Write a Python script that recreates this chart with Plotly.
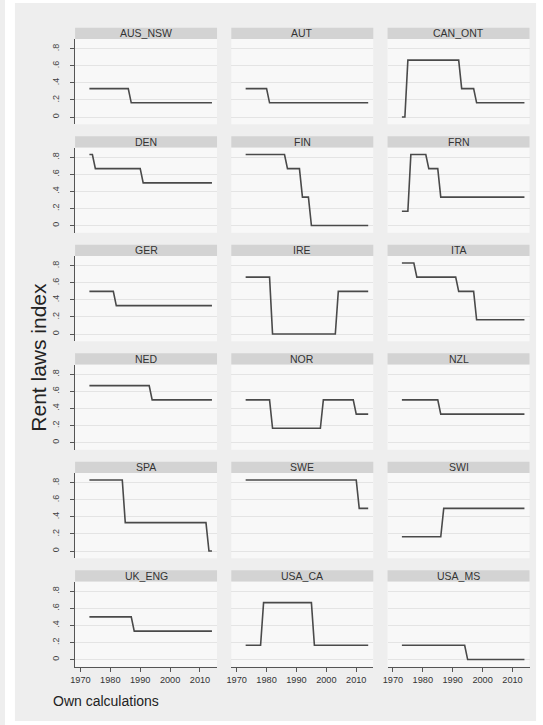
import plotly.graph_objects as go

# ---------------- data ----------------
YEARS = [1973, 1974, 1975, 1976, 1977, 1978, 1979,
         1980, 1981, 1982, 1983, 1984, 1985, 1986,
         1987, 1988, 1989, 1990, 1991, 1992, 1993,
         1994, 1995, 1996, 1997, 1998, 1999, 2000,
         2001, 2002, 2003, 2004, 2005, 2006, 2007,
         2008, 2009, 2010, 2011, 2012, 2013, 2014]

REGIONS = ["AUS_NSW", "AUT", "CAN_ONT",
           "DEN", "FIN", "FRN",
           "GER", "IRE", "ITA",
           "NED", "NOR", "NZL",
           "SPA", "SWE", "SWI",
           "UK_ENG", "USA_CA", "USA_MS"]

# rows of 7 values: 1973-79, 1980-86, 1987-93, 1994-2000, 2001-07, 2008-14
AUS_NSW = [.333, .333, .333, .333, .333, .333, .333,
           .333, .333, .333, .333, .333, .333, .333,
           .167, .167, .167, .167, .167, .167, .167,
           .167, .167, .167, .167, .167, .167, .167,
           .167, .167, .167, .167, .167, .167, .167,
           .167, .167, .167, .167, .167, .167, .167]
AUT = [.333, .333, .333, .333, .333, .333, .333,
       .333, .167, .167, .167, .167, .167, .167,
       .167, .167, .167, .167, .167, .167, .167,
       .167, .167, .167, .167, .167, .167, .167,
       .167, .167, .167, .167, .167, .167, .167,
       .167, .167, .167, .167, .167, .167, .167]
CAN_ONT = [0, 0, .667, .667, .667, .667, .667,
           .667, .667, .667, .667, .667, .667, .667,
           .667, .667, .667, .667, .667, .667, .333,
           .333, .333, .333, .333, .167, .167, .167,
           .167, .167, .167, .167, .167, .167, .167,
           .167, .167, .167, .167, .167, .167, .167]
DEN = [.833, .833, .667, .667, .667, .667, .667,
       .667, .667, .667, .667, .667, .667, .667,
       .667, .667, .667, .667, .5, .5, .5,
       .5, .5, .5, .5, .5, .5, .5,
       .5, .5, .5, .5, .5, .5, .5,
       .5, .5, .5, .5, .5, .5, .5]
FIN = [.833, .833, .833, .833, .833, .833, .833,
       .833, .833, .833, .833, .833, .833, .833,
       .667, .667, .667, .667, .667, .333, .333,
       .333, 0, 0, 0, 0, 0, 0,
       0, 0, 0, 0, 0, 0, 0,
       0, 0, 0, 0, 0, 0, 0]
FRN = [.167, .167, .167, .833, .833, .833, .833,
       .833, .833, .667, .667, .667, .667, .333,
       .333, .333, .333, .333, .333, .333, .333,
       .333, .333, .333, .333, .333, .333, .333,
       .333, .333, .333, .333, .333, .333, .333,
       .333, .333, .333, .333, .333, .333, .333]
GER = [.5, .5, .5, .5, .5, .5, .5,
       .5, .5, .333, .333, .333, .333, .333,
       .333, .333, .333, .333, .333, .333, .333,
       .333, .333, .333, .333, .333, .333, .333,
       .333, .333, .333, .333, .333, .333, .333,
       .333, .333, .333, .333, .333, .333, .333]
IRE = [.667, .667, .667, .667, .667, .667, .667,
       .667, .667, 0, 0, 0, 0, 0,
       0, 0, 0, 0, 0, 0, 0,
       0, 0, 0, 0, 0, 0, 0,
       0, 0, 0, .5, .5, .5, .5,
       .5, .5, .5, .5, .5, .5, .5]
ITA = [.833, .833, .833, .833, .833, .667, .667,
       .667, .667, .667, .667, .667, .667, .667,
       .667, .667, .667, .667, .667, .5, .5,
       .5, .5, .5, .5, .167, .167, .167,
       .167, .167, .167, .167, .167, .167, .167,
       .167, .167, .167, .167, .167, .167, .167]
NED = [.667, .667, .667, .667, .667, .667, .667,
       .667, .667, .667, .667, .667, .667, .667,
       .667, .667, .667, .667, .667, .667, .667,
       .5, .5, .5, .5, .5, .5, .5,
       .5, .5, .5, .5, .5, .5, .5,
       .5, .5, .5, .5, .5, .5, .5]
NOR = [.5, .5, .5, .5, .5, .5, .5,
       .5, .5, .167, .167, .167, .167, .167,
       .167, .167, .167, .167, .167, .167, .167,
       .167, .167, .167, .167, .167, .5, .5,
       .5, .5, .5, .5, .5, .5, .5,
       .5, .5, .333, .333, .333, .333, .333]
NZL = [.5, .5, .5, .5, .5, .5, .5,
       .5, .5, .5, .5, .5, .5, .333,
       .333, .333, .333, .333, .333, .333, .333,
       .333, .333, .333, .333, .333, .333, .333,
       .333, .333, .333, .333, .333, .333, .333,
       .333, .333, .333, .333, .333, .333, .333]
SPA = [.833, .833, .833, .833, .833, .833, .833,
       .833, .833, .833, .833, .833, .333, .333,
       .333, .333, .333, .333, .333, .333, .333,
       .333, .333, .333, .333, .333, .333, .333,
       .333, .333, .333, .333, .333, .333, .333,
       .333, .333, .333, .333, .333, 0, 0]
SWE = [.833, .833, .833, .833, .833, .833, .833,
       .833, .833, .833, .833, .833, .833, .833,
       .833, .833, .833, .833, .833, .833, .833,
       .833, .833, .833, .833, .833, .833, .833,
       .833, .833, .833, .833, .833, .833, .833,
       .833, .833, .833, .5, .5, .5, .5]
SWI = [.167, .167, .167, .167, .167, .167, .167,
       .167, .167, .167, .167, .167, .167, .167,
       .5, .5, .5, .5, .5, .5, .5,
       .5, .5, .5, .5, .5, .5, .5,
       .5, .5, .5, .5, .5, .5, .5,
       .5, .5, .5, .5, .5, .5, .5]
UK_ENG = [.5, .5, .5, .5, .5, .5, .5,
          .5, .5, .5, .5, .5, .5, .5,
          .5, .333, .333, .333, .333, .333, .333,
          .333, .333, .333, .333, .333, .333, .333,
          .333, .333, .333, .333, .333, .333, .333,
          .333, .333, .333, .333, .333, .333, .333]
USA_CA = [.167, .167, .167, .167, .167, .167, .667,
          .667, .667, .667, .667, .667, .667, .667,
          .667, .667, .667, .667, .667, .667, .667,
          .667, .667, .167, .167, .167, .167, .167,
          .167, .167, .167, .167, .167, .167, .167,
          .167, .167, .167, .167, .167, .167, .167]
USA_MS = [.167, .167, .167, .167, .167, .167, .167,
          .167, .167, .167, .167, .167, .167, .167,
          .167, .167, .167, .167, .167, .167, .167,
          .167, 0, 0, 0, 0, 0, 0,
          0, 0, 0, 0, 0, 0, 0,
          0, 0, 0, 0, 0, 0, 0]

SERIES = [AUS_NSW, AUT, CAN_ONT, DEN, FIN, FRN, GER, IRE, ITA,
          NED, NOR, NZL, SPA, SWE, SWI, UK_ENG, USA_CA, USA_MS]

Y_TICKS = [0, 0.2, 0.4, 0.6, 0.8]
Y_TICK_LABELS = ["0", ".2", ".4", ".6", ".8"]
X_TICKS = [1970, 1980, 1990, 2000, 2010]
Y_TITLE = "Rent laws index"
NOTE = "Own calculations"

# ---------------- layout ----------------
W, H = 543, 725
FONT = "Arial, Liberation Sans, Helvetica, sans-serif"
PAGE_BG = "#eeeeee"
PLOT_BG = "#f8f8f8"
STRIP_BG = "#d3d3d3"
LINE_COL = "#4a4a4a"
AXIS_COL = "#555555"
Y_RANGE = [-0.085, 0.915]

COL_LEFT, COL_W, COL_PITCH = 70.7, 143.3, 157.7
ROW_TOP, PLOT_H, STRIP_H, ROW_PITCH = 39.0, 85.3, 11.3, 108.5

fig = go.Figure()
shapes = []
annotations = []
layout_axes = {}
n = len(REGIONS)

for i, (name, vals) in enumerate(zip(REGIONS, SERIES)):
    r, c = divmod(i, 3)
    k = i + 1
    sfx = "" if k == 1 else str(k)
    x0 = COL_LEFT + c * COL_PITCH
    x1 = x0 + COL_W
    top = ROW_TOP + r * ROW_PITCH
    bot = top + PLOT_H
    fig.add_trace(go.Scatter(
        x=YEARS, y=vals, mode="lines",
        line=dict(color=LINE_COL, width=1.6),
        xaxis="x" + sfx, yaxis="y" + sfx, showlegend=False,
        hoverinfo="x+y"))
    last_row = r == 5
    first_col = c == 0
    layout_axes["xaxis" + sfx] = dict(
        domain=[x0 / W, x1 / W], anchor="y" + sfx,
        range=[1968.2, 2015.7], showgrid=False, zeroline=False,
        tickvals=X_TICKS, showticklabels=last_row,
        ticks="outside" if last_row else "", ticklen=4, tickwidth=1,
        tickcolor=AXIS_COL, showline=last_row, linecolor=AXIS_COL,
        linewidth=1, tickfont=dict(size=9.2, color="#333333", family=FONT))
    layout_axes["yaxis" + sfx] = dict(
        domain=[1 - bot / H, 1 - top / H], anchor="x" + sfx,
        range=Y_RANGE, showgrid=True, gridcolor="#e4e4e4",
        gridwidth=1, zeroline=False, tickvals=Y_TICKS,
        showticklabels=False,
        ticks="outside" if first_col else "", ticklen=4, tickwidth=1,
        tickcolor=AXIS_COL, showline=first_col, linecolor=AXIS_COL,
        linewidth=1)
    if first_col:
        # overlaid axis that only carries the rotated tick labels, set off
        # a little further from the axis line
        lsfx = str(n + 1 + r)
        fig.add_trace(go.Scatter(
            x=YEARS, y=vals, mode="lines", opacity=0,
            line=dict(width=0), xaxis="x" + sfx, yaxis="y" + lsfx,
            showlegend=False, hoverinfo="skip"))
        layout_axes["yaxis" + lsfx] = dict(
            overlaying="y" + sfx, anchor="x" + sfx, side="left",
            range=Y_RANGE, showgrid=False, zeroline=False,
            tickvals=Y_TICKS, ticktext=Y_TICK_LABELS, tickangle=-90,
            ticks="outside", ticklen=11, tickcolor="rgba(0,0,0,0)",
            showline=False,
            tickfont=dict(size=9, color="#444444", family=FONT))
    # strip header
    shapes.append(dict(type="rect", xref="paper", yref="paper",
                       x0=x0 / W, x1=x1 / W,
                       y0=1 - top / H, y1=1 - (top - STRIP_H) / H,
                       fillcolor=STRIP_BG, line=dict(width=0), layer="above"))
    annotations.append(dict(text=name, xref="paper", yref="paper",
                            x=(x0 + x1) / 2 / W,
                            y=1 - (top - STRIP_H / 2) / H,
                            xanchor="center", yanchor="middle",
                            showarrow=False,
                            font=dict(size=10.5, color="#333333", family=FONT)))

# white outer border strips
for bx0, bx1, by0, by1 in [(0, 10, 0, H), (536, W, 0, H), (0, W, 0, 3), (0, W, 721, H)]:
    shapes.append(dict(type="rect", xref="paper", yref="paper",
                       x0=bx0 / W, x1=bx1 / W, y0=1 - by1 / H, y1=1 - by0 / H,
                       fillcolor="#ffffff", line=dict(width=0), layer="above"))

annotations.append(dict(text=Y_TITLE, xref="paper", yref="paper",
                        x=33 / W, y=1 - 357 / H, textangle=-90,
                        xanchor="center", yanchor="middle", showarrow=False,
                        font=dict(size=21, color="#222222", family=FONT)))
annotations.append(dict(text=NOTE, xref="paper", yref="paper",
                        x=46 / W, y=1 - 701 / H, xanchor="left",
                        yanchor="middle", showarrow=False,
                        font=dict(size=14, color="#222222", family=FONT)))

fig.update_layout(
    width=W, height=H, margin=dict(l=0, r=0, t=0, b=0),
    paper_bgcolor=PAGE_BG, plot_bgcolor=PLOT_BG,
    shapes=shapes, annotations=annotations, showlegend=False,
    font=dict(family=FONT), **layout_axes)

fig.write_html(
    "out.html",
    config={"displayModeBar": False},
    post_script=("document.body.style.margin='0';"
                 "document.body.style.overflow='hidden';"
                 "document.documentElement.style.overflow='hidden';"))
